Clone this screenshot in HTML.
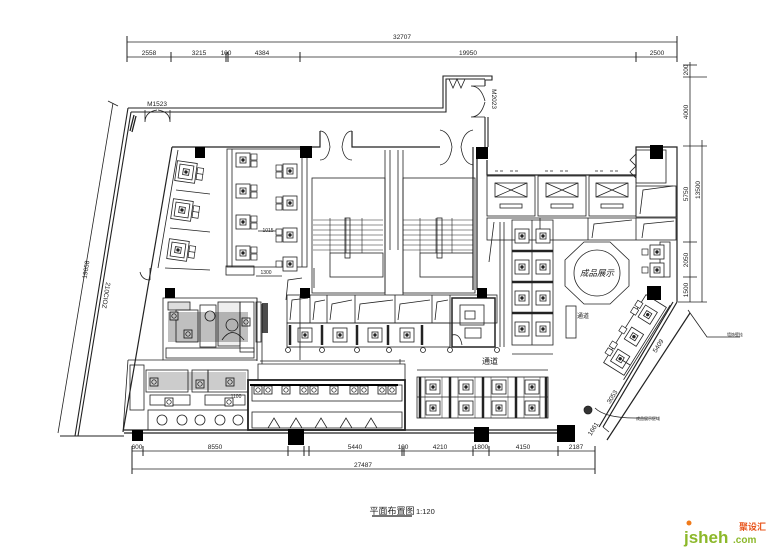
<!DOCTYPE html>
<html><head><meta charset="utf-8"><style>
html,body{margin:0;padding:0;background:#fff;}
svg{display:block;}
text{font-family:"Liberation Sans","Noto Sans CJK SC",sans-serif;fill:#222;}
</style></head><body>
<svg width="780" height="548" viewBox="0 0 780 548" xmlns="http://www.w3.org/2000/svg">
<defs>
<g id="tb"><rect x="-7" y="-7" width="14" height="14" fill="#fff" stroke="#222" stroke-width="0.8"/><rect x="-3" y="-3" width="6" height="6" fill="none" stroke="#222" stroke-width="0.8"/><circle r="1.3" fill="#222"/></g>
<g id="ch"><rect x="-3" y="-3" width="6" height="6" fill="#fff" stroke="#222" stroke-width="0.7"/></g>
<g id="bx"><rect x="0" y="0" width="8" height="8" fill="#fff" stroke="#111" stroke-width="0.8"/><circle cx="4" cy="4" r="2.2" fill="none" stroke="#111" stroke-width="0.7"/></g>
</defs>
<g fill="none" stroke="#222" stroke-width="0.8">
<!-- top dims -->
<line x1="127" y1="42" x2="677" y2="42"/>
<line x1="127" y1="57" x2="677" y2="57"/>
<g stroke-width="1"><line x1="127" y1="36" x2="127" y2="62"/><line x1="677" y1="36" x2="677" y2="62"/><line x1="171" y1="52" x2="171" y2="62"/><line x1="226" y1="52" x2="226" y2="62"/><line x1="228" y1="52" x2="228" y2="62"/><line x1="300" y1="52" x2="300" y2="62"/><line x1="636" y1="52" x2="636" y2="62"/></g>
<!-- right dims -->
<line x1="690" y1="62" x2="690" y2="302"/>
<line x1="702" y1="140" x2="702" y2="302"/>
<g><line x1="683" y1="65" x2="697" y2="65"/><line x1="683" y1="77" x2="707" y2="77"/><line x1="683" y1="146" x2="707" y2="146"/><line x1="683" y1="242" x2="697" y2="242"/><line x1="683" y1="277" x2="697" y2="277"/><line x1="678" y1="302" x2="707" y2="302"/></g>
<!-- outer shell -->
<g stroke-width="1.1">
<polyline points="128,108 443,108 443,76 492,76 492,80 485,80 485,86"/>
<polyline points="131,112 446,112 446,79 485,79"/>
<line x1="485" y1="117" x2="485" y2="147"/><line x1="488" y1="117" x2="488" y2="147"/>
<line x1="128" y1="108" x2="75" y2="436"/><line x1="131" y1="112" x2="78" y2="436"/>
<line x1="60" y1="436" x2="124" y2="436"/>
</g>
<line x1="113" y1="103" x2="58" y2="433"/><line x1="108" y1="101" x2="118" y2="106"/>
<path d="M134 115 l-4 16 M136 116 l-4 16" stroke-width="1.3"/>
<path d="M145 110 v12 M170 110 v12 M145 122 q0-10 12-12 M170 122 q0-10 -12-12"/>
<path d="M485 86 h-14 M485 117 h-14 M471 86 q10 0 14 15 M471 117 q10 0 14-15"/>
<path d="M449 79 l4 9 l4 -9 l4 9 l4-9"/>
<!-- building outline -->
<g stroke-width="1.2">
<polyline points="172,147 320,147 320,131"/>
<polyline points="352,131 352,147 440,147"/>
<line x1="473" y1="147" x2="473" y2="290"/><line x1="477" y1="147" x2="477" y2="290"/>
<polyline points="487,160 487,175 636,175 636,147 677,147 677,302"/>
<line x1="172" y1="147" x2="123" y2="432"/>
<line x1="124" y1="430" x2="558" y2="430"/><line x1="124" y1="433" x2="558" y2="433"/>
<line x1="677" y1="302" x2="603" y2="427"/><line x1="673" y1="302" x2="599" y2="427"/>
<line x1="690" y1="313" x2="607" y2="440"/>
</g>
<path d="M320 131 q8 0 10 16 M352 131 q-8 0 -10 16 M320 160 q8 0 10-13 M352 160 q-8 0 -10-13"/>
<path d="M440 130 q10 2 12 17 M473 130 q-10 2 -12 17 M440 165 q10-2 12-18 M473 165 q-10-2 -12-18"/>
<path d="M150 280 q-8 0 -10 -8 M150 280 v-12"/>
<!-- left booth strip -->
<line x1="178" y1="150" x2="158" y2="268"/>
<line x1="176" y1="190" x2="210" y2="194"/><line x1="170" y1="228" x2="210" y2="232"/><line x1="165" y1="268" x2="210" y2="270"/>
<g transform="translate(186,172) rotate(8)"><rect x="-10" y="-10" width="20" height="20" fill="#fff"/><use href="#tb"/><use href="#ch" x="14" y="-3"/><use href="#ch" x="14" y="3"/></g>
<g transform="translate(182,210) rotate(8)"><rect x="-10" y="-10" width="20" height="20" fill="#fff"/><use href="#tb"/><use href="#ch" x="14" y="-3"/><use href="#ch" x="14" y="3"/></g>
<g transform="translate(178,250) rotate(8)"><rect x="-10" y="-10" width="20" height="20" fill="#fff"/><use href="#tb"/><use href="#ch" x="14" y="-3"/><use href="#ch" x="14" y="3"/></g>
<!-- middle tables -->
<rect x="227" y="149" width="80" height="118"/>
<line x1="232" y1="149" x2="232" y2="267"/><line x1="302" y1="149" x2="302" y2="267"/>
<rect x="226" y="266" width="28" height="9"/>
<g><use href="#tb" x="243" y="160"/><use href="#ch" x="254" y="157"/><use href="#ch" x="254" y="164"/>
<use href="#tb" x="243" y="191"/><use href="#ch" x="254" y="188"/><use href="#ch" x="254" y="195"/>
<use href="#tb" x="243" y="222"/><use href="#ch" x="254" y="219"/><use href="#ch" x="254" y="226"/>
<use href="#tb" x="243" y="253"/><use href="#ch" x="254" y="250"/><use href="#ch" x="254" y="257"/>
<use href="#tb" x="290" y="171"/><use href="#ch" x="279" y="168"/><use href="#ch" x="279" y="175"/>
<use href="#tb" x="290" y="203"/><use href="#ch" x="279" y="200"/><use href="#ch" x="279" y="207"/>
<use href="#tb" x="290" y="235"/><use href="#ch" x="279" y="232"/><use href="#ch" x="279" y="239"/>
<use href="#tb" x="290" y="264"/><use href="#ch" x="279" y="264"/></g>
<line x1="258" y1="231" x2="276" y2="231"/><line x1="256" y1="276" x2="282" y2="276"/>
<!-- stairs -->
<rect x="312" y="178" width="73" height="115"/>
<rect x="403" y="178" width="72" height="115"/>
<path d="M385 150 v145 M403 150 v145 M390 150 v100 M398 150 v100"/>
<g stroke-width="0.6">
<path d="M313 220h70M313 225h70M313 230h70M313 235h70M313 240h70M313 245h70M313 250h70"/>
<path d="M403 220h70M403 225h70M403 230h70M403 235h70M403 240h70M403 245h70M403 250h70"/>
<path d="M330 218v35M346 218v35M362 218v35M420 218v35M436 218v35M452 218v35"/>
</g>
<rect x="345" y="218" width="5" height="40"/><rect x="437" y="218" width="5" height="40"/>
<rect x="330" y="253" width="53" height="24"/><rect x="420" y="253" width="53" height="24"/>
<!-- row of rooms -->
<rect x="287" y="295" width="210" height="28"/>
<path d="M310 295v28M327 295v28M355 295v28M395 295v28M432 295v28M450 295v52"/>
<path d="M290 320 l2-20 l16-2 M313 320 l2-18 l10-2 M330 320 l2-16 l20-4 M358 320 l2-16 l33-4 M398 320 l2-16 l30-4 M435 320 l2-18 l11-2"/>
<rect x="287" y="323" width="163" height="24"/>
<path d="M286 300 l2-20 l14-2 M314 268 v20"/>
<g stroke-width="2.5"><path d="M290 325v20M322 325v20M357 325v20M388 325v20M422 325v20"/></g>
<use href="#tb" x="305" y="335"/><use href="#tb" x="340" y="335"/><use href="#tb" x="375" y="335"/><use href="#tb" x="407" y="335"/>
<circle cx="288" cy="350" r="2.5"/><circle cx="322" cy="350" r="2.5"/><circle cx="357" cy="350" r="2.5"/><circle cx="389" cy="350" r="2.5"/><circle cx="423" cy="350" r="2.5"/><circle cx="450" cy="350" r="2.5"/><circle cx="497" cy="350" r="2.5"/>
<rect x="452" y="298" width="43" height="49" stroke-width="1.5"/>
<rect x="460" y="305" width="24" height="20"/><rect x="465" y="328" width="16" height="10"/><rect x="465" y="311" width="10" height="8"/>
<path d="M452 335 q8-2 10 10"/>
<!-- elevators -->
<path d="M487 175 v-5 M495 171h10M510 171h10M545 171h10M560 171h10M595 171h10M610 171h10" stroke-dasharray="3 2"/>
<rect x="487" y="176" width="48" height="40"/><rect x="538" y="176" width="48" height="40"/><rect x="589" y="176" width="47" height="40"/>
<g><rect x="495" y="183" width="32" height="14"/><path d="M495 183l32 14M527 183l-32 14"/><rect x="500" y="204" width="22" height="4"/>
<rect x="546" y="183" width="32" height="14"/><path d="M546 183l32 14M578 183l-32 14"/><rect x="551" y="204" width="22" height="4"/>
<rect x="596" y="183" width="32" height="14"/><path d="M596 183l32 14M628 183l-32 14"/><rect x="601" y="204" width="22" height="4"/></g>
<rect x="636" y="186" width="40" height="31"/><path d="M640 214 l3-24 l30-4"/>
<rect x="636" y="150" width="30" height="33"/>
<path d="M630 160 l6-6 v12z M630 172 l6-6 v12z"/>
<rect x="487" y="218" width="189" height="22"/>
<path d="M540 218v22M588 218v22M636 218v22 M592 238 l2-14 l38-4 M642 238 l2-14 l30-3"/>
<!-- middle booth column -->
<rect x="512" y="220" width="41" height="125"/>
<line x1="532" y1="220" x2="532" y2="345"/>
<g stroke-width="2.5"><path d="M512 251h41M512 282h41M512 313h41"/></g>
<use href="#tb" x="522" y="236"/><use href="#tb" x="543" y="236"/><use href="#tb" x="522" y="267"/><use href="#tb" x="543" y="267"/><use href="#tb" x="522" y="298"/><use href="#tb" x="543" y="298"/><use href="#tb" x="522" y="329"/><use href="#tb" x="543" y="329"/>
<path d="M500 222 v125 M504 222 v125 M494 222 l-5 40"/>
<line x1="512" y1="354" x2="553" y2="354"/>
<rect x="566" y="306" width="10" height="32"/>
<!-- octagon -->
<polygon points="584,242 610,242 629,260 629,286 610,304 584,304 565,286 565,260"/>
<circle cx="597" cy="273" r="23"/>
<!-- right side booths -->
<rect x="660" y="242" width="10" height="35"/>
<use href="#tb" x="657" y="252"/><use href="#ch" x="645" y="252"/><use href="#tb" x="657" y="270"/><use href="#ch" x="645" y="270"/>
<g transform="translate(635,335) rotate(-58)">
<rect x="-40" y="-12" width="80" height="24"/><line x1="-44" y1="14" x2="44" y2="14"/>
<use href="#tb" x="-28" y="0"/><use href="#ch" x="-28" y="-13"/><use href="#ch" x="-20" y="-13"/>
<use href="#tb" x="-2" y="0"/><use href="#ch" x="-2" y="-13"/>
<use href="#tb" x="24" y="0"/><use href="#ch" x="20" y="-13"/><use href="#ch" x="28" y="-13"/>
</g>
<polyline points="688,310 707,337 740,337"/>
<path d="M595 408 q10 10 40 10 h22"/>
<!-- kitchen -->
<rect x="163" y="298" width="94" height="62"/>
<rect x="256" y="302" width="5" height="40"/>
<rect x="168" y="302" width="22" height="8" fill="#ddd"/>
<rect x="176" y="310" width="22" height="32"/><rect x="200" y="305" width="16" height="42"/><rect x="218" y="302" width="22" height="44" fill="#eee"/><rect x="240" y="302" width="14" height="50"/>
<rect x="166" y="348" width="88" height="10"/>
<circle cx="210" cy="316" r="5"/><circle cx="232" cy="325" r="6"/><path d="M222 340 q10-15 22 0"/>
<path d="M163 360 l-35 0 M128 360 l-5 72"/>
<rect x="130" y="365" width="14" height="45"/>
<rect x="146" y="370" width="42" height="22"/><rect x="192" y="370" width="16" height="22"/><rect x="208" y="370" width="40" height="22"/>
<rect x="148" y="410" width="100" height="20"/><rect x="150" y="395" width="40" height="10"/><rect x="205" y="395" width="40" height="10"/>
<circle cx="162" cy="420" r="5"/><circle cx="182" cy="420" r="5"/><circle cx="200" cy="420" r="5"/><circle cx="220" cy="420" r="5"/><circle cx="238" cy="420" r="5"/>
<!-- long counter -->
<rect x="248" y="380" width="157" height="50" stroke-width="1.8"/>
<rect x="252" y="385" width="150" height="16"/>
<rect x="252" y="412" width="150" height="16"/>
<path d="M258 380 v-16 h147 v16 M262 364 v-60 M400 364 v-5"/>
<path d="M268 428 l6-10 l6 10 M290 428 l6-10 l6 10 M315 428 l6-10 l6 10 M340 428 l6-10 l6 10 M365 428 l6-10 l6 10"/>
<!-- bottom dining grid -->
<rect x="417" y="377" width="131" height="41"/>
<line x1="417" y1="397" x2="548" y2="397"/>
<g stroke-width="2.5"><path d="M420 377v41M450 377v41M483 377v41M516 377v41M546 377v41"/></g>
<path d="M425 377v41M442 377v41M458 377v41M475 377v41M491 377v41M508 377v41M524 377v41M540 377v41" stroke-width="0.5"/>
<use href="#tb" x="433" y="387"/><use href="#tb" x="466" y="387"/><use href="#tb" x="499" y="387"/><use href="#tb" x="532" y="387"/>
<use href="#tb" x="433" y="408"/><use href="#tb" x="466" y="408"/><use href="#tb" x="499" y="408"/><use href="#tb" x="532" y="408"/>
<line x1="417" y1="370" x2="548" y2="370"/>
<line x1="260" y1="361" x2="405" y2="361"/><line x1="257" y1="298" x2="257" y2="361"/>
<line x1="300" y1="296" x2="300" y2="360"/>
<!-- bottom dims -->
<line x1="132" y1="451" x2="595" y2="451"/>
<line x1="132" y1="469" x2="595" y2="469"/>
<g stroke-width="1"><path d="M132 446v28M595 446v28M143 446v10M288 446v10M304 446v10M309 446v10M402 446v10M404 446v10M473 446v10M489 446v10M558 446v10"/></g>
<path d="M622 360 l8 5 M603 427 l6 5"/>
<circle cx="588" cy="410" r="4" fill="#333"/>
<line x1="372" y1="516" x2="412" y2="516" stroke-width="1.2"/>
</g>
<!-- kitchen clutter -->
<g>
<use href="#bx" x="254" y="386"/><use href="#bx" x="264" y="386"/><use href="#bx" x="282" y="386"/><use href="#bx" x="300" y="386"/><use href="#bx" x="310" y="386"/><use href="#bx" x="330" y="386"/><use href="#bx" x="350" y="386"/><use href="#bx" x="360" y="386"/><use href="#bx" x="378" y="386"/><use href="#bx" x="388" y="386"/>
<use href="#bx" x="170" y="312"/><use href="#bx" x="184" y="330"/><use href="#bx" x="242" y="318"/><use href="#bx" x="196" y="380"/><use href="#bx" x="165" y="398"/><use href="#bx" x="225" y="398"/><use href="#bx" x="150" y="378"/><use href="#bx" x="226" y="378"/>
</g>
<!-- pillars -->
<g fill="#000">
<rect x="195" y="147" width="10" height="11"/><rect x="300" y="146" width="12" height="12"/><rect x="476" y="147" width="12" height="12"/><rect x="650" y="145" width="13" height="14"/>
<rect x="165" y="288" width="10" height="10"/><rect x="300" y="288" width="10" height="10"/><rect x="477" y="288" width="10" height="10"/><rect x="647" y="286" width="14" height="14"/>
<rect x="132" y="430" width="11" height="11"/><rect x="288" y="429" width="16" height="16"/><rect x="474" y="427" width="15" height="15"/><rect x="557" y="425" width="18" height="17"/>
<rect x="250" y="384" width="148" height="2"/>
<rect x="168" y="312" width="80" height="30" opacity="0.25"/>
<rect x="148" y="372" width="98" height="18" opacity="0.2"/>
<rect x="262" y="303" width="6" height="30" opacity="0.7"/>
</g>
<!-- text -->
<g font-size="6.5" text-anchor="middle">
<text x="402" y="39">32707</text>
<text x="149" y="55">2558</text><text x="199" y="55">3215</text><text x="226" y="55">100</text><text x="262" y="55">4384</text><text x="468" y="55">19950</text><text x="657" y="55">2500</text>
<text x="137" y="449">600</text><text x="215" y="449">8550</text><text x="355" y="449">5440</text><text x="403" y="449">100</text><text x="440" y="449">4210</text><text x="481" y="449">1800</text><text x="523" y="449">4150</text><text x="576" y="449">2187</text>
<text x="363" y="467">27487</text>
<text x="157" y="106">M1523</text>
<text x="266" y="274" font-size="5">1300</text><text x="268" y="232" font-size="5">1015</text>
<text x="236" y="398" font-size="5">1100</text>
</g>
<g font-size="6.5" text-anchor="middle">
<text transform="translate(492,99) rotate(90)">M2023</text>
<text transform="translate(688,70) rotate(-90)">200</text>
<text transform="translate(688,112) rotate(-90)">4000</text>
<text transform="translate(688,194) rotate(-90)">5750</text>
<text transform="translate(700,190) rotate(-90)">13500</text>
<text transform="translate(688,260) rotate(-90)">2050</text>
<text transform="translate(688,290) rotate(-90)">1500</text>
<text transform="translate(660,347) rotate(-58)">5409</text>
<text transform="translate(614,398) rotate(-58)">3053</text>
<text transform="translate(595,430) rotate(-58)">1661</text>
<text transform="translate(88,270) rotate(-81)">19658</text>
<text transform="translate(104,295) rotate(99)">210CIOZ</text>
</g>
<text x="597" y="276" font-size="8.5" text-anchor="middle" font-style="italic">成品展示</text>
<text x="490" y="364" font-size="8" text-anchor="middle">通道</text>
<text x="583" y="318" font-size="6" text-anchor="middle">通道</text>
<text x="727" y="336" font-size="4">墙饰壁挂</text>
<text x="636" y="420" font-size="4">成品展示区域</text>
<text x="392" y="514" font-size="9" text-anchor="middle">平面布置图</text>
<text x="416" y="514" font-size="7.5">1:120</text>
<!-- logo -->
<g font-family="Liberation Sans,sans-serif" font-weight="bold">
<text x="684" y="543" font-size="17" style="fill:#8cb82a">jsheh</text>
<text x="733" y="543" font-size="10" style="fill:#8cb82a">.com</text>
<text x="739" y="530" font-size="9" style="fill:#e8541b" font-family="Noto Sans CJK SC,sans-serif">聚设汇</text>
<circle cx="689" cy="523" r="2.5" fill="#f07a1a"/>
</g>
</svg>
</body></html>
